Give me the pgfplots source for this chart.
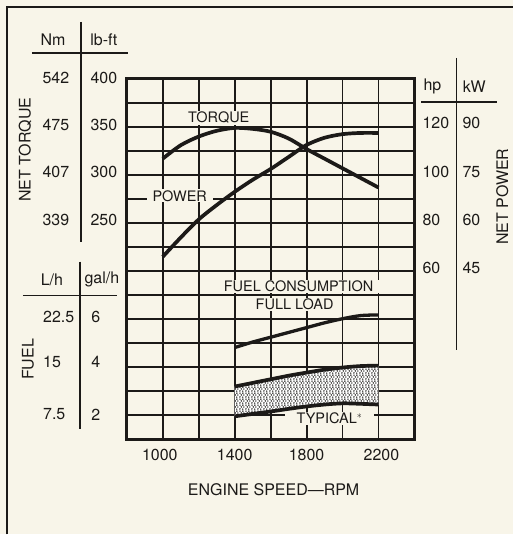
\documentclass[border=0pt]{standalone}
\usepackage{fontspec}
\setmainfont{TeX Gyre Heros}
\usepackage{pgfplots}
\usepackage{pgfplotstable}
\pgfplotsset{compat=1.18}
\usetikzlibrary{patterns}
\definecolor{paper}{RGB}{248,245,233}
\definecolor{ink}{RGB}{28,26,24}

% irregular stipple for the typical band
\pgfdeclarepatternformonly{stipple}{\pgfpointorigin}{\pgfqpoint{6pt}{6pt}}%
  {\pgfqpoint{6pt}{6pt}}{%
  \pgfpathcircle{\pgfqpoint{1.0pt}{1.1pt}}{0.85pt}
  \pgfpathcircle{\pgfqpoint{3.8pt}{0.9pt}}{0.8pt}
  \pgfpathcircle{\pgfqpoint{2.3pt}{3.1pt}}{0.85pt}
  \pgfpathcircle{\pgfqpoint{4.9pt}{2.9pt}}{0.75pt}
  \pgfpathcircle{\pgfqpoint{1.0pt}{4.9pt}}{0.8pt}
  \pgfpathcircle{\pgfqpoint{3.9pt}{4.9pt}}{0.85pt}
  \pgfusepath{fill}}

% fuel consumption, gal/h
\pgfplotstableread{
rpm  full  typhi  typlo
1400 4.82  3.20   1.96
1500 5.05  3.35   2.06
1600 5.25  3.50   2.16
1700 5.45  3.65   2.27
1800 5.65  3.78   2.37
1900 5.85  3.90   2.45
2000 6.02  3.99   2.50
2100 6.15  4.05   2.48
2200 6.18  4.07   2.45
}\fuel

% outline of the typical band: upper edge out, lower edge back
\pgfplotstableread{
rpm  gal
1400 3.20
1500 3.35
1600 3.50
1700 3.65
1800 3.78
1900 3.90
2000 3.99
2100 4.05
2200 4.07
2200 2.45
2100 2.48
2000 2.50
1900 2.45
1800 2.37
1700 2.27
1600 2.16
1500 2.06
1400 1.96
}\band

\pgfplotsset{
  base/.style={scale only axis, width=288pt, height=361pt,
    at={(127pt,95pt)}, anchor=south west, xmin=800, xmax=2400},
  curve/.style={ink, line width=3.7pt, smooth, no markers},
}

\begin{document}
\begin{tikzpicture}[font=\fontsize{16}{18}\selectfont, text=ink]
\fill[paper] (0,0) rectangle (514pt,535pt);

% grid and net torque (lb-ft)
\begin{axis}[base, ymin=25, ymax=400,
    xtick={800,1000,...,2400}, ytick={25,50,...,400},
    xticklabels={}, yticklabels={}, major tick length=0pt,
    grid=major, major grid style={ink, line width=1.9pt},
    axis line style={ink, line width=2.8pt}]
\addplot[curve] coordinates {(1000,317) (1100,331) (1200,340) (1300,346)
  (1400,349) (1500,348) (1600,345) (1700,338) (1800,327) (1900,317)
  (2000,307) (2100,297) (2200,287)};
\end{axis}

% text and side scales, in picture pixels (y downwards)
\begin{scope}[x=1pt, y=-1pt, shift={(0pt,535pt)}]
  \draw[ink, line width=1.5pt] (7,535) -- (7,7) -- (514,7);
  % torque scale
  \draw[ink, line width=1.4pt] (32,53) -- (128,53);
  \draw[ink, line width=1.4pt] (81,22) -- (81,242);
  \node at (53,40) {Nm};
  \node at (104,40) {lb-ft};
  \foreach \a/\b/\y in {542/400/78, 475/350/125, 407/300/172, 339/250/220}
    {\node at (56,\y) {\a}; \node at (104,\y) {\b};}
  \node[rotate=90] at (25,150) {NET TORQUE};
  % fuel scale
  \draw[ink, line width=1.4pt] (23,296) -- (117,296);
  \draw[ink, line width=1.4pt] (80,262) -- (80,430);
  \node at (52,280) {L/h};
  \node at (102,280) {gal/h};
  \foreach \a/\b/\y in {22.5/6/317, 15/4/362, 7.5/2/415}
    {\node[anchor=west, inner xsep=0pt] at (43,\y) {\a}; \node at (96,\y) {\b};}
  \node[rotate=90] at (28,360) {FUEL};
  % power scale
  \draw[ink, line width=1.4pt] (422,102) -- (498,102);
  \draw[ink, line width=1.4pt] (457,58) -- (457,350);
  \node at (433,87) {hp};
  \node at (475,87) {kW};
  \foreach \a/\b/\y in {120/90/123, 100/75/172, 80/60/220, 60/45/268}
    {\node[anchor=west, inner xsep=0pt] at (423,\y) {\a};
     \node[anchor=west, inner xsep=0pt] at (463,\y) {\b};}
  \node[rotate=90] at (503,197) {NET POWER};
  % x axis
  \foreach \v/\x in {1000/160, 1400/235, 1800/307, 2200/382}
    \node at (\x,456) {\v};
  \node at (274,490) {ENGINE SPEED---RPM};
  % curve names
  \begin{scope}[every node/.style={fill=paper, inner xsep=6pt, inner ysep=1pt,
      font=\fontsize{14.5}{16}\selectfont}]
    \node at (219,118) {TORQUE};
    \node at (180,196) {POWER};
    \node at (299,287) {FUEL CONSUMPTION};
    \node[inner xsep=2pt] at (295,305) {FULL LOAD};
    \node[inner xsep=12pt] at (330,419) {TYPICAL$^*$};
  \end{scope}
\end{scope}

% net power, hp
\begin{axis}[base, ymin=-10, ymax=140, axis lines=none]
\addplot[curve] coordinates {(1000,66) (1100,74) (1200,81.5) (1300,87.5)
  (1400,93) (1500,98) (1600,102.5) (1700,107.5) (1800,112.5) (1900,115.5)
  (2000,117) (2100,117.5) (2200,117.5)};
\end{axis}

% fuel consumption, gal/h
\begin{axis}[base, ymin=1, ymax=16, axis lines=none]
\addplot[draw=none, fill=white, no markers,
  postaction={pattern=stipple, pattern color=ink}]
  table[x=rpm, y=gal] {\band} -- cycle;
\addplot[curve] table[y=typhi] {\fuel};
\addplot[curve] table[y=typlo] {\fuel};
\addplot[curve, line width=3.3pt] table[y=full] {\fuel};
\end{axis}
\end{tikzpicture}
\end{document}
